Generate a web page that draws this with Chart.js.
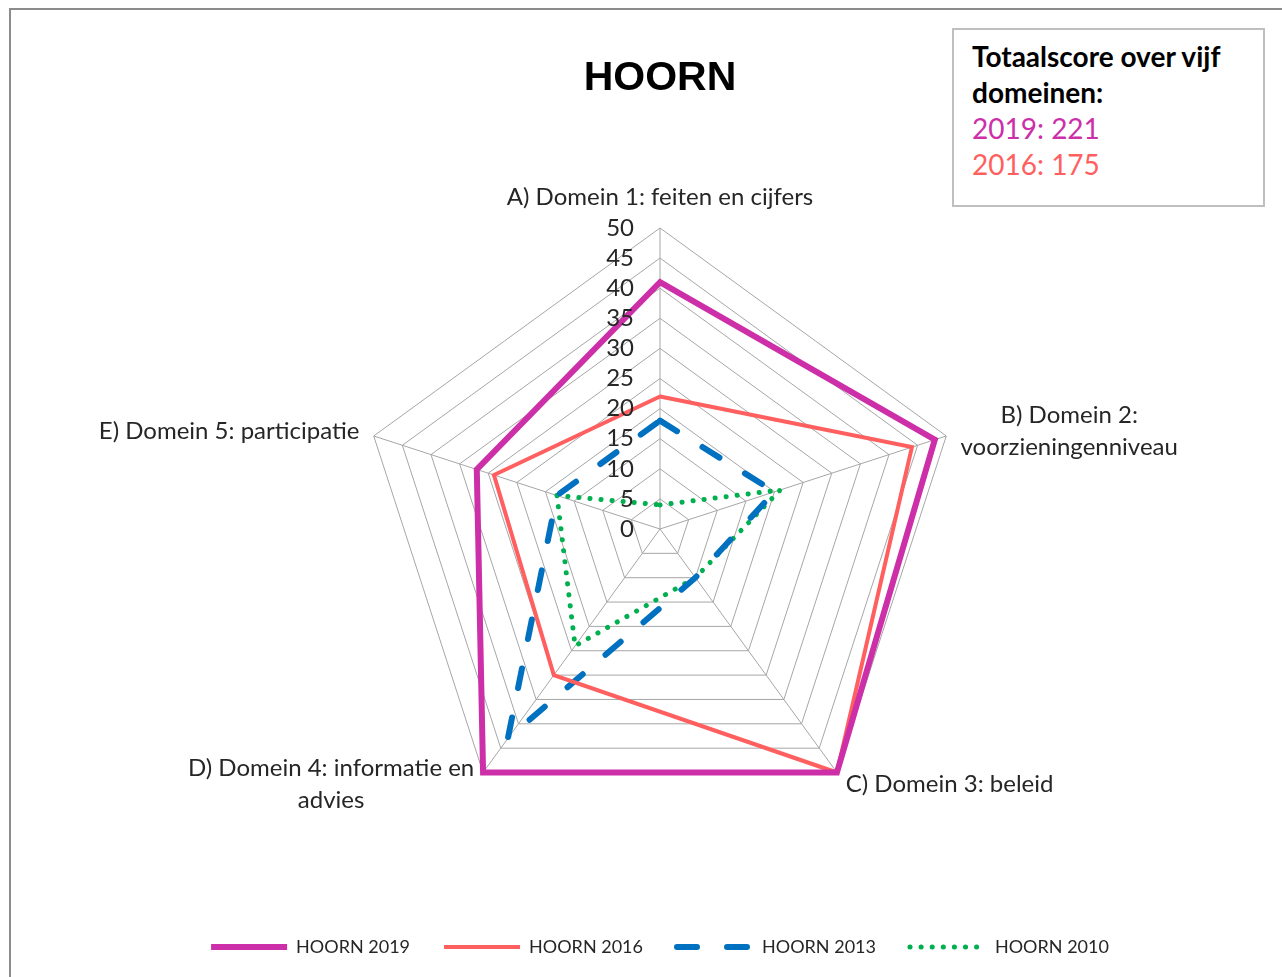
<!DOCTYPE html>
<html>
<head>
<meta charset="utf-8">
<script src="https://cdn.jsdelivr.net/npm/chart.js@4.4.1/dist/chart.umd.min.js"></script>
<style>
  body { margin: 0; background: #fff; }
  #wrap { position: relative; width: 1282px; height: 977px; }
  #frame { position: absolute; left: 9px; top: 8px; right: -10px; bottom: -10px; border: 2px solid #8c8c8c; }
  #score { position: absolute; left: 952px; top: 28px; width: 291px; height: 159px;
           border: 2px solid #bfbfbf; padding: 8px 0 8px 18px; background: #fff;
           font-family: Lato, sans-serif; font-size: 28px; line-height: 36px; }
  #score b { color: #000; }
</style>
</head>
<body>
<div id="wrap">
  <div id="frame"></div>
  <canvas id="hoornRadar" width="1282" height="977"></canvas>
  <div id="score">
    <b>Totaalscore over vijf<br>domeinen:</b><br>
    <span style="color:#cc2fa8">2019: 221</span><br>
    <span style="color:#ff5f5f">2016: 175</span>
  </div>
</div>
<script>
// categories (multi-line labels as arrays)
const domains = [
  "A) Domein 1: feiten en cijfers",
  ["B) Domein 2:", "voorzieningenniveau"],
  "C) Domein 3: beleid",
  ["D) Domein 4: informatie en", "advies"],
  "E) Domein 5: participatie"
];

// scores per domain
const hoorn2019 = [41, 48, 50, 50, 32];
const hoorn2016 = [22, 44, 50, 30, 29];
const hoorn2013 = [18, 20, 10, 43, 18];
const hoorn2010 = [4, 21, 10, 24, 18];

const seriesNames = ["HOORN 2019", "HOORN 2016", "HOORN 2013", "HOORN 2010"];
const scaleMax = 50;
const scaleStep = 5;

const labelFont = "24px Lato, sans-serif";

// draws the tick numbers left of the top axis and the domain labels
const radarText = {
  id: "radarText",
  afterDraw(chart) {
    const r = chart.scales.r;
    const ctx = chart.ctx;
    ctx.save();
    ctx.font = labelFont;
    ctx.fillStyle = "#262626";
    ctx.textBaseline = "middle";

    ctx.textAlign = "right";
    r.ticks.forEach(t => {
      const d = r.getDistanceFromCenterForValue(t.value);
      ctx.fillText(String(t.value), r.xCenter - 26, r.yCenter - d);
    });

    const lineH = 32;
    domains.forEach((lab, i) => {
      const lines = Array.isArray(lab) ? lab : [lab];
      const pos = r.getPointPosition(i, r.drawingArea + 15);
      const widths = lines.map(l => ctx.measureText(l).width);
      const blockW = Math.max(...widths);
      const blockH = lines.length * lineH;
      let left, top;
      const dx = pos.x - r.xCenter;
      if (Math.abs(dx) < 1) {
        left = pos.x - blockW / 2;
        top = pos.y - blockH;
      } else if (dx > 0) {
        left = pos.x;
        top = pos.y - blockH / 2;
      } else {
        left = pos.x - blockW;
        top = pos.y - blockH / 2;
      }
      ctx.textAlign = "center";
      lines.forEach((l, k) => {
        ctx.fillText(l, left + blockW / 2, top + lineH * k + lineH / 2);
      });
    });
    ctx.restore();
  }
};

new Chart("hoornRadar", {
  type: "radar",
  data: {
    labels: domains,
    datasets: [
      {
        label: seriesNames[0],
        data: hoorn2019,
        borderColor: "#cc2fa8",
        borderWidth: 6,
        fill: false,
        pointRadius: 0,
        borderJoinStyle: "miter",
        clip: false
      },
      {
        label: seriesNames[1],
        data: hoorn2016,
        borderColor: "#ff5f5f",
        borderWidth: 4,
        fill: false,
        pointRadius: 0,
        clip: false
      },
      {
        label: seriesNames[2],
        data: hoorn2013,
        borderColor: "#0070c0",
        borderWidth: 6,
        borderDash: [20, 30],
        borderCapStyle: "round",
        fill: false,
        pointRadius: 0,
        clip: false
      },
      {
        label: seriesNames[3],
        data: hoorn2010,
        borderColor: "#00b050",
        borderWidth: 5,
        borderDash: [0.1, 11],
        borderCapStyle: "round",
        fill: false,
        pointRadius: 0,
        clip: false
      }
    ]
  },
  options: {
    responsive: false,
    animation: false,
    layout: { padding: { top: 0, left: 38, right: 0, bottom: 11 } },
    scales: {
      r: {
        min: 0,
        max: scaleMax,
        ticks: { stepSize: scaleStep, display: false },
        grid: { color: "#a6a6a6", lineWidth: 1 },
        angleLines: { color: "#a6a6a6", lineWidth: 1 },
        pointLabels: { display: false }
      }
    },
    plugins: {
      title: {
        display: true,
        text: "HOORN",
        color: "#000",
        font: { family: "'Liberation Sans', Arial, sans-serif", size: 41, weight: "bold" },
        padding: { top: 54, bottom: 125 }
      },
      legend: {
        position: "bottom",
        title: { display: true, text: " ", font: { size: 12 }, padding: { top: 59, bottom: 0 } },
        labels: {
          usePointStyle: true,
          pointStyleWidth: 76,
          padding: 34,
          color: "#262626",
          font: { family: "Lato, sans-serif", size: 18 },
          generateLabels(chart) {
            return chart.data.datasets.map((ds, i) => ({
              text: ds.label,
              datasetIndex: i,
              pointStyle: "line",
              strokeStyle: ds.borderColor,
              fillStyle: ds.borderColor,
              lineWidth: ds.borderWidth,
              lineDash: ds.borderDash || [],
              lineCap: ds.borderCapStyle || "butt",
              fontColor: "#262626",
              hidden: false
            }));
          }
        }
      },
      tooltip: { enabled: false }
    }
  },
  plugins: [radarText]
});
</script>
</body>
</html>
